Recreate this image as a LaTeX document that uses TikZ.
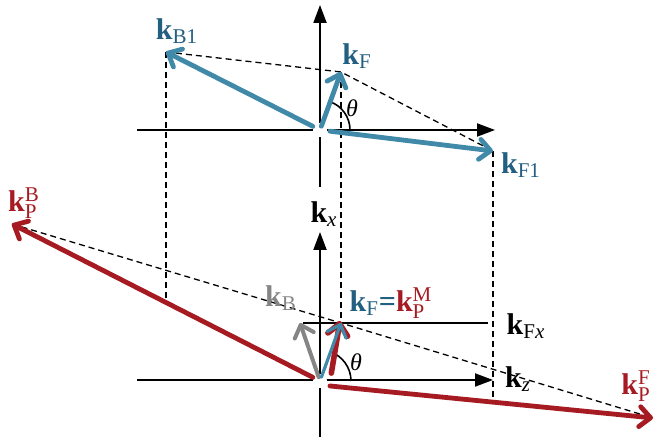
\documentclass[tikz,border=0pt]{standalone}
\usepackage{fontspec}
\setmainfont{Liberation Serif}
\usetikzlibrary{arrows.meta}
\definecolor{WaveBlue}{HTML}{4189A8}
\definecolor{WaveBlueText}{HTML}{225F80}
\definecolor{WaveRed}{HTML}{A61B22}
\definecolor{WaveGray}{HTML}{858585}

\begin{document}
\begin{tikzpicture}[x=0.5pt, y=0.5pt,
    axis/.style={line width=1pt, -{Triangle[length=9pt,width=6.5pt]}},
    vec/.style={line width=2.4pt, line cap=round,
                -{Straight Barb[length=5.5pt,width=10pt,round]}},
    guide/.style={line width=0.65pt, dash pattern=on 3pt off 2pt},
    lbl/.style={inner sep=1pt, font=\fontsize{15}{17}\selectfont},
    ang/.style={inner sep=1pt, font=\fontsize{12}{14}\selectfont\itshape},
  ]
  \useasboundingbox (0,0) rectangle (656,442);

  % top: incident / back-scattered waves
  \coordinate (O1) at (320,312);
  \coordinate (yTopS) at (320,255);
  \coordinate (yTopE) at (320,437);
  \coordinate (xTopS) at (137,312);
  \coordinate (xTopE) at (495,312);
  \coordinate (kB1) at (166,390);
  \coordinate (kFt) at (341,370);
  \coordinate (kF1) at (493,291);

  % bottom: kx-kz plane
  \coordinate (O2) at (320,61);
  \coordinate (yBotS) at (320,5);
  \coordinate (yBotE) at (320,210);
  \coordinate (xBotS) at (137,62);
  \coordinate (xBotE) at (493,62);
  \coordinate (kB) at (300,119);
  \coordinate (kFb) at (341,119);
  \coordinate (kPM) at (340,121);
  \coordinate (kPB) at (12,218);
  \coordinate (kPF) at (653,24);
  \coordinate (fx0) at (303,119);
  \coordinate (b1foot) at (166,140);
  \coordinate (f1foot) at (493,41);

  \draw[axis] (yTopS) -- (yTopE);
  \draw[axis] (xTopS) -- (xTopE);
  \draw[axis] (yBotS) -- (yBotE);
  \draw[axis] (xBotS) -- (xBotE);
  \fill[white] (O1) circle (7);
  \fill[white] (O2) circle (7);

  \node[lbl] (lkx) at (324,228) {$\mathbf{k}_{\mathit{x}}$};
  \node[lbl] (lkz) at (518,63) {$\mathbf{k}_{\mathit{z}}$};
  \node[lbl] (lFx) at (526,116) {$\mathbf{k}_{\mathrm{F}\mathit{x}}$};
  \draw[line width=0.8pt, shorten >=8pt] (fx0) -- (fx0 -| lFx.west);

  \draw[guide] (kB1) -- (kFt) -- (kF1);
  \draw[guide] (kPB) -- (kFb) -- (kPF);
  \draw[guide] (kB1) -- (b1foot);
  \draw[guide] (kFt) -- (kFb);
  \draw[guide] (kF1) -- (f1foot);

  \draw[line width=0.8pt] ([shift={(30,0)}]O1) arc[start angle=0, end angle=70, radius=30];
  \draw[line width=0.8pt] ([shift={(31,0)}]O2) arc[start angle=0, end angle=71, radius=31];
  \node[ang] (th1) at (352,334) {θ};
  \node[ang] (th2) at (356,80) {θ};

  \draw[vec, WaveBlue, shorten <=4pt] (O1) -- (kB1);
  \draw[vec, WaveBlue, shorten <=2pt] (O1) -- (kFt);
  \draw[vec, WaveBlue, shorten <=5pt] (O1) -- (kF1);

  \draw[vec, WaveRed, shorten <=4pt] (O2) -- (kPB);
  \draw[vec, WaveRed, shorten <=5pt] ([yshift=-2]O2) -- (kPF);
  \draw[vec, WaveGray, line width=2pt, shorten <=2pt] (O2) -- (kB);
  \draw[vec, WaveRed, line width=2.8pt, shorten <=4pt] ([xshift=5]O2) -- (kPM);
  \draw[vec, WaveBlue, line width=1.6pt, shorten <=2pt] (O2) -- (kFb);

  \node[lbl, text=WaveBlueText] (lB1) at (177,411) {$\mathbf{k}_{\mathrm{B1}}$};
  \node[lbl, text=WaveBlueText] (lFt) at (357,386) {$\mathbf{k}_{\mathrm{F}}$};
  \node[lbl, text=WaveBlueText] (lF1) at (521,277) {$\mathbf{k}_{\mathrm{F1}}$};
  \node[lbl, text=WaveGray] (lB) at (281,144) {$\mathbf{k}_{\mathrm{B}}$};
  \node[lbl] (lFM) at (391,139)
        {\color{WaveBlueText}$\mathbf{k}_{\mathrm{F}}$\textbf{=}\color{WaveRed}$\mathbf{k}_{\mathrm{P}}^{\mathrm{M}}$};
  \node[lbl, text=WaveRed] (lPB) at (24,239) {$\mathbf{k}_{\mathrm{P}}^{\mathrm{B}}$};
  \node[lbl, text=WaveRed] (lPF) at (636,56) {$\mathbf{k}_{\mathrm{P}}^{\mathrm{F}}$};
\end{tikzpicture}
\end{document}
